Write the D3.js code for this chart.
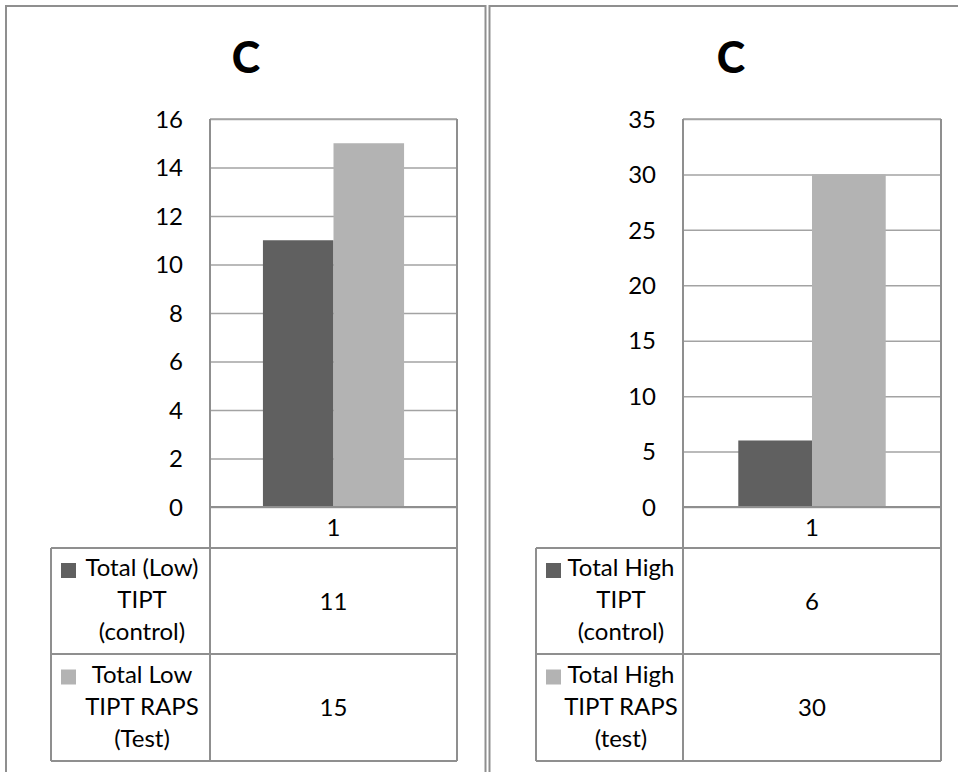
<!DOCTYPE html>
<html>
<head>
<meta charset="utf-8">
<script src="https://cdn.jsdelivr.net/npm/d3@7"></script>
<style>
  html, body { margin: 0; padding: 0; background: #fff; }
  svg { display: block; }
  text { font-family: Lato, "Open Sans", sans-serif; fill: #000; }
</style>
</head>
<body>
<svg id="chart" width="958" height="772"></svg>
<script>
// Category along the x axis (shared by both charts)
const categories = ["1"];

// Left chart: low TIPT totals
const lowTitle = "C";
const lowSeriesLabels = [["Total (Low)", "TIPT", "(control)"], ["Total Low", "TIPT RAPS", "(Test)"]];
const lowValues = [11, 15];
const lowTicks = [0, 2, 4, 6, 8, 10, 12, 14, 16];

// Right chart: high TIPT totals
const highTitle = "C";
const highSeriesLabels = [["Total High", "TIPT", "(control)"], ["Total High", "TIPT RAPS", "(test)"]];
const highValues = [6, 30];
const highTicks = [0, 5, 10, 15, 20, 25, 30, 35];

const seriesColors = ["#606060", "#b3b3b3"];
const lineColor = "#8f8f8f";
const gridColor = "#a3a3a3";
const fontSize = 24;

const svg = d3.select("#chart");

function drawPanel(opts) {
  const g = svg.append("g");
  const { frameLeft, frameRight, plotLeft, plotRight, legendLeft, titleX } = opts;
  const plotTop = 119, plotBottom = 507;
  const catRowBottom = 548;
  const rowBottoms = [654, 761];

  // Outer frame of the panel (runs past the bottom of the page)
  const frame = d3.path();
  frame.moveTo(frameLeft, 800);
  frame.lineTo(frameLeft, 6);
  frame.lineTo(frameRight, 6);
  frame.lineTo(frameRight, 800);
  g.append("path").attr("d", frame.toString())
    .attr("fill", "none").attr("stroke", lineColor).attr("stroke-width", 2);

  // Title
  g.append("text").attr("x", titleX).attr("y", 73)
    .attr("text-anchor", "middle")
    .style("font-size", "43px").style("font-weight", 900)
    .text(opts.title);

  const y = d3.scaleLinear()
    .domain([d3.min(opts.ticks), d3.max(opts.ticks)])
    .range([plotBottom, plotTop]);

  const x = d3.scaleBand().domain(categories).range([plotLeft, plotRight]).padding(0);
  const xs = d3.scaleBand().domain(d3.range(opts.values.length))
    .range([0, x.bandwidth()]).paddingInner(0).paddingOuter(0.75);

  // Gridlines + y tick labels
  const yAxis = d3.axisLeft(y).tickValues(opts.ticks)
    .tickSize(-(plotRight - plotLeft)).tickPadding(27)
    .tickFormat(d3.format("d"));
  const ya = g.append("g").attr("transform", `translate(${plotLeft},0)`).call(yAxis);
  ya.select(".domain").remove();
  ya.selectAll(".tick line").attr("stroke", gridColor).attr("stroke-width", 1.5);
  ya.selectAll(".tick text").style("font-size", fontSize + "px")
    .style("font-family", "Lato, sans-serif").attr("fill", "#000").attr("dy", "0.34em");

  // Bars
  g.append("g").selectAll("rect")
    .data(opts.values)
    .join("rect")
    .attr("x", (d, i) => x(categories[0]) + xs(i))
    .attr("width", xs.bandwidth())
    .attr("y", d => y(d))
    .attr("height", d => y(0) - y(d))
    .attr("fill", (d, i) => seriesColors[i]);

  // Data table grid
  const tbl = g.append("g").attr("stroke", lineColor).attr("stroke-width", 2).attr("fill", "none");
  tbl.append("line").attr("x1", plotLeft).attr("x2", plotRight).attr("y1", plotTop).attr("y2", plotTop).attr("stroke", gridColor).attr("stroke-width", 1.5);
  tbl.append("line").attr("x1", plotLeft).attr("x2", plotLeft).attr("y1", plotTop).attr("y2", rowBottoms[1]);
  tbl.append("line").attr("x1", plotRight).attr("x2", plotRight).attr("y1", plotTop).attr("y2", rowBottoms[1]);
  tbl.append("line").attr("x1", plotLeft).attr("x2", plotRight).attr("y1", plotBottom).attr("y2", plotBottom);
  tbl.append("line").attr("x1", legendLeft).attr("x2", plotRight).attr("y1", catRowBottom).attr("y2", catRowBottom);
  rowBottoms.forEach(yy => tbl.append("line").attr("x1", legendLeft).attr("x2", plotRight).attr("y1", yy).attr("y2", yy));
  tbl.append("line").attr("x1", legendLeft).attr("x2", legendLeft).attr("y1", catRowBottom).attr("y2", rowBottoms[1]);

  // Category label
  g.append("text").attr("x", x(categories[0]) + x.bandwidth() / 2)
    .attr("y", (plotBottom + catRowBottom) / 2).attr("dy", "0.36em")
    .attr("text-anchor", "middle").style("font-size", fontSize + "px")
    .text(categories[0]);

  // Legend rows with values
  const rowTops = [catRowBottom, rowBottoms[0]];
  const lineH = 32;
  opts.values.forEach((v, i) => {
    const top = rowTops[i], bottom = rowBottoms[i];
    const mid = (top + bottom) / 2;
    const lines = opts.labels[i];
    const firstBase = mid - lineH * (lines.length - 1) / 2 + 7;
    const swX = legendLeft + 10;
    g.append("rect").attr("x", swX).attr("y", firstBase - 13)
      .attr("width", 15).attr("height", 15).attr("fill", seriesColors[i]);
    const textCx = (swX + 19 + plotLeft - 6) / 2;
    lines.forEach((ln, j) => {
      g.append("text").attr("x", textCx).attr("y", firstBase + j * lineH)
        .attr("text-anchor", "middle").style("font-size", fontSize + "px").text(ln);
    });
    g.append("text").attr("x", x(categories[0]) + x.bandwidth() / 2)
      .attr("y", mid).attr("dy", "0.36em")
      .attr("text-anchor", "middle").style("font-size", fontSize + "px")
      .text(d3.format("d")(v));
  });
}

drawPanel({
  title: lowTitle, labels: lowSeriesLabels, values: lowValues, ticks: lowTicks,
  frameLeft: 6, frameRight: 485.5, plotLeft: 210, plotRight: 457, legendLeft: 51, titleX: 246
});
drawPanel({
  title: highTitle, labels: highSeriesLabels, values: highValues, ticks: highTicks,
  frameLeft: 489.5, frameRight: 975, plotLeft: 683, plotRight: 941, legendLeft: 536, titleX: 731
});
</script>
</body>
</html>
